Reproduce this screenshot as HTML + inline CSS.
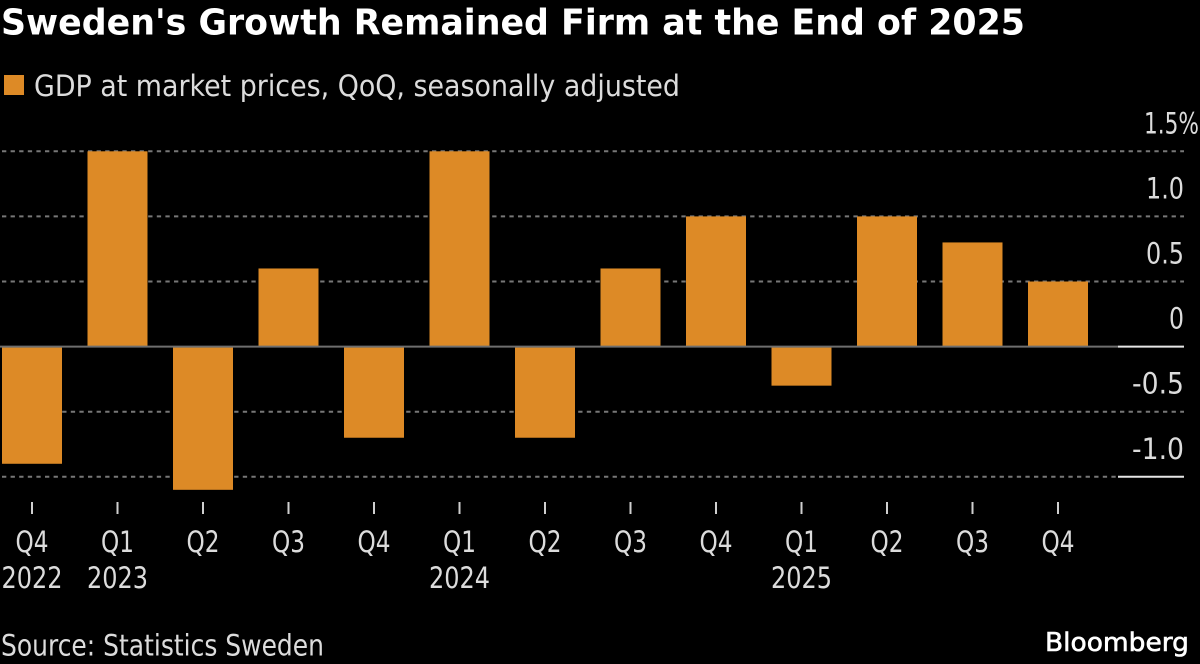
<!DOCTYPE html>
<html lang="en">
<head>
<meta charset="utf-8">
<title>Sweden's Growth Remained Firm at the End of 2025</title>
<style>
html,body{margin:0;padding:0;background:#000;width:1200px;height:664px;overflow:hidden}
svg{display:block}
.lab{font-family:"DejaVu Sans","Liberation Sans",sans-serif;font-size:29px;fill:#dcdcdc}
</style>
</head>
<body>
<svg id="chart" width="1200" height="664" viewBox="0 0 1200 664" xmlns="http://www.w3.org/2000/svg">
<rect width="1200" height="664" fill="#000"/>
<text x="1" y="34.5" font-family="'DejaVu Sans','Liberation Sans',sans-serif" font-weight="700" font-size="36" fill="#fff" textLength="1024" lengthAdjust="spacingAndGlyphs">Sweden's Growth Remained Firm at the End of 2025</text>
<rect x="4" y="75" width="20" height="20" fill="#dd8a26"/>
<text class="lab" x="34" y="96" textLength="646" lengthAdjust="spacingAndGlyphs">GDP at market prices, QoQ, seasonally adjusted</text>
<g id="grid"></g>
<g id="bars"></g>
<g id="yaxis"></g>
<g id="xaxis"></g>
<text class="lab" x="1" y="655.5" textLength="323" lengthAdjust="spacingAndGlyphs">Source: Statistics Sweden</text>
<text x="1045" y="651" font-family="'DejaVu Sans','Liberation Sans',sans-serif" font-size="26" fill="#fff" stroke="#fff" stroke-width="0.6" textLength="144" lengthAdjust="spacingAndGlyphs">Bloomberg</text>
</svg>
<script>
const quarters = ["Q4","Q1","Q2","Q3","Q4","Q1","Q2","Q3","Q4","Q1","Q2","Q3","Q4"];
const years = ["2022","2023","","","","2024","","","","2025","","",""];
const gdpValues = [-0.9,1.5,-1.1,0.6,-0.7,1.5,-0.7,0.6,1.0,-0.3,1.0,0.8,0.5];
const yTicks = [1.5,1.0,0.5,0,-0.5,-1.0];
const yTickLabels = ["1.5%","1.0","0.5","0","-0.5","-1.0"];

const NS = "http://www.w3.org/2000/svg";
const yScale = v => 346.6 - v * 130.2;
const xScale = i => 32 + i * 85.5;
const barWidth = 60;

const grid = document.getElementById("grid");
const bars = document.getElementById("bars");
const yaxis = document.getElementById("yaxis");
const xaxis = document.getElementById("xaxis");

function line(parent, x1, y1, x2, y2, stroke, width, dash) {
  const l = document.createElementNS(NS, "line");
  l.setAttribute("x1", x1);
  l.setAttribute("y1", y1);
  l.setAttribute("x2", x2);
  l.setAttribute("y2", y2);
  l.setAttribute("stroke", stroke);
  l.setAttribute("stroke-width", width);
  if (dash) l.setAttribute("stroke-dasharray", dash);
  parent.appendChild(l);
  return l;
}
function label(parent, x, y, str, anchor, len) {
  const t = document.createElementNS(NS, "text");
  t.setAttribute("x", x);
  t.setAttribute("y", y);
  t.setAttribute("class", "lab");
  t.setAttribute("text-anchor", anchor);
  t.setAttribute("textLength", len);
  t.setAttribute("lengthAdjust", "spacingAndGlyphs");
  t.textContent = str;
  parent.appendChild(t);
  return t;
}

yTicks.forEach((v, i) => {
  const y = yScale(v);
  const hasMarker = v === 0 || i === yTicks.length - 1;
  if (v !== 0) {
    const g = line(grid, 2, y, hasMarker ? 1118 : 1184, y, "#777", 2, "4.3 4.3");
    
    
  }
  if (hasMarker) {
    const m = line(yaxis, 1118, y, 1184, y, "#e6e6e6", 2);
    
    
  }
  const isTop = i === 0;
  const str = yTickLabels[i];
  const width = isTop ? 55 : str === "0" ? 15 : str.length === 3 ? 38 : 52;
  const t = label(yaxis, isTop ? 1144 : 1184, y - 18, str, isTop ? "start" : "end", width);
  
  
});

gdpValues.forEach((v, i) => {
  const r = document.createElementNS(NS, "rect");
  const y0 = yScale(0), y1 = yScale(v);
  r.setAttribute("x", xScale(i) - barWidth / 2);
  r.setAttribute("y", Math.min(y0, y1));
  r.setAttribute("width", barWidth);
  r.setAttribute("height", Math.abs(y1 - y0));
  r.setAttribute("fill", "#dd8a26");
  
  
  bars.appendChild(r);
});

const zero = line(bars, 0, yScale(0), 1118, yScale(0), "#6e6e6e", 2);



quarters.forEach((q, i) => {
  const x = xScale(i);
  const tk = line(xaxis, x, 502, x, 514, "#cfcfcf", 2);
  
  
  const ql = label(xaxis, x, 552, q, "middle", 33);
  
  
  if (years[i]) {
    const yl = label(xaxis, x, 588, years[i], "middle", 61);
    
    
  }
});
</script>
</body>
</html>
